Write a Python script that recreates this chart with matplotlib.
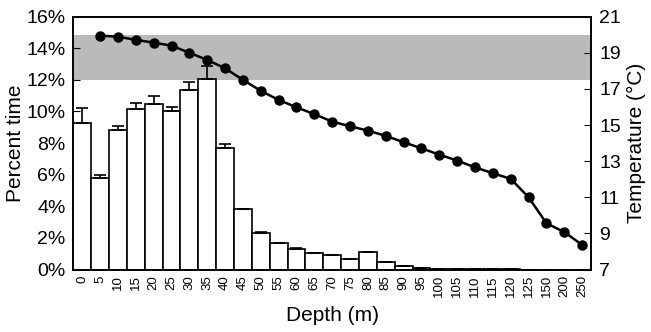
import numpy as np
import matplotlib
matplotlib.use("Agg")
import matplotlib.pyplot as plt

plt.rcParams["font.family"] = ["Liberation Sans", "DejaVu Sans"]

# depth bins (m)
depths = ["0", "5", "10", "15", "20", "25", "30", "35", "40", "45", "50", "55",
          "60", "65", "70", "75", "80", "85", "90", "95", "100", "105", "110",
          "115", "120", "125", "150", "200", "250"]

# percent time at depth
pct_time = [9.3, 5.82, 8.83, 10.14, 10.47, 10.05, 11.36, 12.08, 7.69, 3.81,
            2.33, 1.66, 1.32, 1.03, 0.92, 0.68, 1.11, 0.46, 0.2, 0.1, 0.03,
            0.02, 0.01, 0.01, 0.01, 0.0, 0.0, 0.0, 0.0]
# upper error (top of whisker)
pct_err_top = [10.2, 5.98, 9.1, 10.56, 10.98, 10.3, 11.87, 12.88, 7.92, 3.85,
               2.36, 1.68, 1.34, 1.05, 0.94, 0.7, 1.14, 0.47, 0.21, 0.1, 0.03,
               0.02, 0.01, 0.01, 0.01, 0.0, 0.0, 0.0, 0.0]

# temperature profile, from 5 m down
temp_depths = depths[1:]
temperature = [19.95, 19.89, 19.71, 19.56, 19.39, 19.0, 18.6, 18.14, 17.5,
               16.89, 16.39, 15.98, 15.6, 15.19, 14.93, 14.69, 14.4, 14.05,
               13.71, 13.36, 13.03, 12.66, 12.33, 12.02, 11.0, 9.56, 9.08, 8.36]

# preferred temperature band (deg C)
band_lo, band_hi = 17.5, 20.0

pct_lim = (0, 16)
temp_lim = (7, 21)

x = np.arange(len(depths))
vals = np.array(pct_time)
err = np.array(pct_err_top) - vals

fig = plt.figure(figsize=(6.51, 3.32), dpi=100)
ax = fig.add_axes([0.1126, 0.188, 0.7954, 0.762])

# band converted to percent-axis units so it sits behind bars
scale = (pct_lim[1] - pct_lim[0]) / (temp_lim[1] - temp_lim[0])
ax.axhspan((band_lo - temp_lim[0]) * scale, (band_hi - temp_lim[0]) * scale,
           facecolor="#bababa", edgecolor="none", zorder=1)

ax.bar(x, vals, width=1.0, color="white", edgecolor="black", linewidth=1.2,
       zorder=2)
ax.errorbar(x, vals, yerr=[np.zeros_like(err), err], fmt="none",
            ecolor="black", elinewidth=1.2, capsize=4, capthick=1.2, zorder=3)

ax.set_xlim(-0.5, len(depths) - 0.5)
ax.set_ylim(*pct_lim)
ax.set_yticks(np.arange(0, 17, 2))
ax.set_yticklabels([f"{v}%" for v in range(0, 17, 2)])
ax.set_xticks(x)
ax.set_xticklabels(depths, rotation=90, fontsize=9.5)
ax.tick_params(axis="x", length=0, pad=4)
ax.tick_params(axis="y", direction="in", length=5, labelsize=14, pad=5.5)
ax.set_ylabel("Percent time", fontsize=15, labelpad=1)
ax.set_xlabel("Depth (m)", fontsize=15, labelpad=6)

ax2 = ax.twinx()
tx = [depths.index(d) for d in temp_depths]
ax2.plot(tx, temperature, color="black", linewidth=1.8, marker="o",
         markersize=6.5, zorder=4)
ax2.set_ylim(*temp_lim)
ax2.set_yticks(np.arange(7, 22, 2))
ax2.tick_params(axis="y", direction="in", length=5, labelsize=14, pad=6)
ax2.set_ylabel("Temperature (°C)", fontsize=15, labelpad=4)

for a in (ax, ax2):
    for s in a.spines.values():
        s.set_linewidth(1.2)

fig.savefig("out.png", dpi=100)
